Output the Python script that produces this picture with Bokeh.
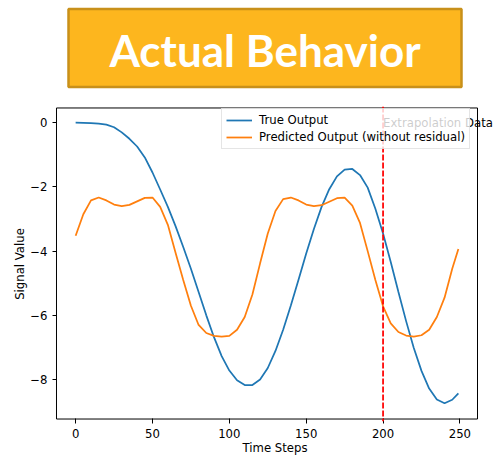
from bokeh.plotting import figure
from bokeh.models import (Range1d, FixedTicker, Span, Label, Legend, LegendItem,
                          ColumnDataSource, BoxAnnotation)
from bokeh.layouts import column
from bokeh.core.properties import value
from bokeh.embed import file_html
from bokeh.resources import INLINE

# ---------------- data ----------------
time_steps = [0, 5, 10, 15, 20, 25, 30, 35, 40, 45, 50, 55, 60, 65, 70, 75, 80, 85, 90, 95,
              100, 105, 110, 115, 120, 125, 130, 135, 140, 145, 150, 155, 160, 165, 170, 175,
              180, 185, 190, 195, 200, 205, 210, 215, 220, 225, 230, 235, 240, 245, 249]

true_output = [0.00, -0.005, -0.01, -0.03, -0.06, -0.14, -0.30, -0.50, -0.74, -1.08,
               -1.55, -2.08, -2.62, -3.22, -3.87, -4.55, -5.27, -6.00, -6.68, -7.27,
               -7.72, -8.02, -8.17, -8.17, -8.00, -7.64, -7.11, -6.45, -5.69, -4.89,
               -4.07, -3.31, -2.62, -2.07, -1.67, -1.46, -1.44, -1.63, -2.02, -2.68,
               -3.45, -4.34, -5.27, -6.18, -7.02, -7.73, -8.28, -8.62, -8.74, -8.63, -8.43]

predicted_output = [-3.52, -2.85, -2.42, -2.33, -2.42, -2.55, -2.60, -2.56, -2.45, -2.34,
                    -2.33, -2.62, -3.18, -4.05, -4.90, -5.70, -6.30, -6.55, -6.64, -6.66,
                    -6.64, -6.45, -6.05, -5.35, -4.38, -3.45, -2.75, -2.38, -2.33, -2.42,
                    -2.55, -2.60, -2.57, -2.46, -2.35, -2.33, -2.58, -3.12, -4.00, -4.90,
                    -5.72, -6.25, -6.52, -6.63, -6.66, -6.62, -6.45, -6.05, -5.45, -4.55, -3.93]

series_names = ["True Output", "Predicted Output (without residual)"]
series_colors = ["#1f77b4", "#ff7f0e"]

extrapolation_start = 200
extrapolation_text = "Extrapolation Data"

x_ticks = [0, 50, 100, 150, 200, 250]
y_ticks = [0, -2, -4, -6, -8]
y_tick_labels = ["0", "\u22122", "\u22124", "\u22126", "\u22128"]

title_text = "Actual Behavior"
x_label = "Time Steps"
y_label = "Signal Value"

# axes box (matplotlib-style limits) and drawing window
axes_x = (-12.45, 261.45)
axes_y = (-9.23, 0.46)
view_x = (-13.10, 272.50)
view_y = (-9.307, 0.506)

FONT = "DejaVu Sans"
FS = "11.7px"

# ---------------- banner ----------------
banner = figure(width=494, height=100, output_backend="svg", toolbar_location=None,
                x_range=Range1d(55, 494), y_range=Range1d(100, 0),
                x_axis_location=None, y_axis_location=None,
                min_border_left=55, min_border_right=0, min_border_top=0, min_border_bottom=0,
                outline_line_color=None)
banner.grid.visible = False
banner.quad(left=[68], right=[461], top=[8.5], bottom=[86.5],
            fill_color="#FDB61E", line_color="#C8901A", line_width=2.5)
banner.text(x=[264.5], y=[49], text=[title_text], text_color="white",
            text_font=value("Lato"), text_font_style="bold", text_font_size="44px",
            text_align="center", text_baseline="alphabetic")

# ---------------- main chart ----------------
p = figure(width=494, height=357, output_backend="svg", toolbar_location=None,
           x_range=Range1d(*view_x), y_range=Range1d(*view_y),
           min_border_left=55, min_border_right=0, min_border_top=6, min_border_bottom=33)
p.grid.visible = False
p.outline_line_color = None

src = ColumnDataSource(dict(t=time_steps, y_true=true_output, y_pred=predicted_output))
r_true = p.line("t", "y_true", source=src, line_color=series_colors[0], line_width=1.75)
r_pred = p.line("t", "y_pred", source=src, line_color=series_colors[1], line_width=1.75)

p.xaxis.ticker = FixedTicker(ticks=x_ticks)
p.yaxis.ticker = FixedTicker(ticks=y_ticks)
p.yaxis.major_label_overrides = {t: l for t, l in zip(y_ticks, y_tick_labels)}
for ax in (p.xaxis[0], p.yaxis[0]):
    ax.axis_line_color = None
    ax.major_tick_line_color = "black"
    ax.minor_tick_line_color = None
    ax.major_label_text_font = FONT
    ax.major_label_text_font_size = FS
    ax.major_label_text_color = "black"
    ax.axis_label_text_font = FONT
    ax.axis_label_text_font_size = FS
    ax.axis_label_text_font_style = "normal"
    ax.axis_label_text_color = "black"
p.xaxis.major_tick_out = 2
p.xaxis.major_tick_in = 3
p.xaxis.major_label_standoff = 5
p.xaxis.axis_label = x_label
p.xaxis.axis_label_standoff = 0
p.yaxis.major_tick_out = 3
p.yaxis.major_tick_in = 1
p.yaxis.major_label_standoff = 5
p.yaxis.axis_label = y_label
p.yaxis.axis_label_standoff = 0

# axes spines
spines = BoxAnnotation(left=axes_x[0], right=axes_x[1], bottom=axes_y[0], top=axes_y[1],
                       fill_color=None, fill_alpha=0, line_color="black", line_alpha=1,
                       line_width=1)
p.add_layout(spines)

span = Span(location=extrapolation_start, dimension="height", line_color="red",
            line_dash="6 2", line_width=1.75)
p.add_layout(span)

ext_label = Label(x=extrapolation_start, y=0, text=extrapolation_text,
                  text_font=FONT, text_font_size=FS, text_color="black",
                  text_align="left", text_baseline="alphabetic")
p.add_layout(ext_label)

legend = Legend(items=[LegendItem(label=series_names[0], renderers=[r_true]),
                       LegendItem(label=series_names[1], renderers=[r_pred])],
                location=(166, 272), margin=0, padding=4, spacing=3,
                glyph_width=26, glyph_height=14, label_height=14, label_standoff=7,
                label_text_font=FONT, label_text_font_size=FS, label_text_color="black",
                background_fill_color="white", background_fill_alpha=0.8,
                border_line_color="#cccccc", border_line_width=1)
p.add_layout(legend)

layout = column(banner, p)
open("out.html", "w").write(file_html(layout, INLINE))
